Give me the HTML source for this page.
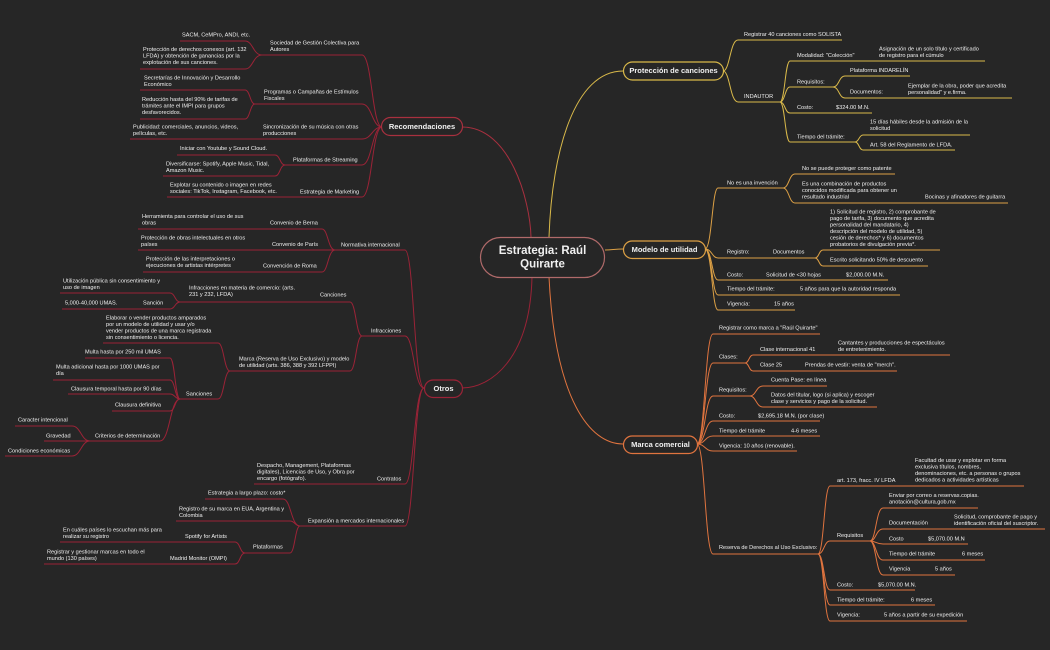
<!DOCTYPE html>
<html><head><meta charset="utf-8"><style>
html,body{margin:0;padding:0;background:#262626;}
svg{display:block;}
text{font-family:"Liberation Sans",sans-serif;font-size:5.6px;fill:#f0f0f0;dominant-baseline:middle;}
.b{font-weight:bold;font-size:7.5px;text-anchor:middle;}
.c{font-weight:bold;font-size:11.5px;text-anchor:middle;}
path{fill:none;stroke-width:1;}
.r path{stroke:#9b2337;}
.y path{stroke:#d9b94a;}
.o path{stroke:#dca045;}
.m path{stroke:#e0743f;}
</style></head><body>
<svg width="1050" height="650" viewBox="0 0 1050 650" xmlns="http://www.w3.org/2000/svg">
<rect width="1050" height="650" fill="#262626"/>
<!-- main connectors -->
<path d="M462 127 C510 127 530 200 531 237" stroke="#a8303f" stroke-width="1.3"/>
<path d="M549 237 C552 150 575 71 623 71" stroke="#d9b94a" stroke-width="1.3"/>
<path d="M605 250 C612 250 615 249 623 249" stroke="#dca045" stroke-width="1.3"/>
<path d="M532 277 C530 360 490 388 462 388" stroke="#9b2337" stroke-width="1.3"/>
<path d="M549 277 C555 400 590 444 623 444" stroke="#e0743f" stroke-width="1.3"/>
<rect x="480.5" y="237.5" width="124" height="40" rx="20" fill="#262626" stroke="#b06a6a" stroke-width="1.2"/>
<text class="c" x="542.5" y="251">Estrategia: Raúl</text>
<text class="c" x="542.5" y="264.5">Quirarte</text>

<!-- Recomendaciones -->
<g class="r">
<path d="M382 127 C372 127 372 55 362 55 H262"/>
<path d="M382 127 C372 127 372 104 362 104 H255"/>
<path d="M382 127 C372 127 372 139 362 139 H130"/>
<path d="M382 127 C372 127 372 165 362 165 H285"/>
<path d="M382 127 C372 127 372 197 362 197 H167"/>
<path d="M262 55 C253 55 253 41 245 41 H180"/>
<path d="M262 55 C253 55 253 69 245 69 H140"/>
<path d="M255 104 C250 104 250 90 245 90 H140"/>
<path d="M255 104 C250 104 250 119 245 119 H140"/>
<path d="M285 165 C280 165 280 155 275 155 H177"/>
<path d="M285 165 C280 165 280 176 275 176 H163"/>
</g>
<rect x="381.5" y="117.5" width="81" height="18" rx="9" fill="#262626" stroke="#a8303f" stroke-width="1.2"/>
<text class="b" x="422" y="127">Recomendaciones</text>
<text x="270" y="43">Sociedad de Gestión Colectiva para</text>
<text x="270" y="49.5">Autores</text>
<text x="182" y="35">SACM, CeMPro, ANDI, etc.</text>
<text x="143" y="49.5">Protección de derechos conexos (art. 132</text>
<text x="143" y="56">LFDA) y obtención de ganancias por la</text>
<text x="143" y="62.5">explotación de sus canciones.</text>
<text x="264" y="92">Programas o Campañas de Estímulos</text>
<text x="264" y="98.5">Fiscales</text>
<text x="144" y="78">Secretarías de Innovación y Desarrollo</text>
<text x="144" y="84.5">Económico</text>
<text x="142" y="99.5">Reducción hasta del 90% de tarifas de</text>
<text x="142" y="106">trámites ante el IMPI para grupos</text>
<text x="142" y="112.5">desfavorecidos.</text>
<text x="263" y="127">Sincronización de su música con otras</text>
<text x="263" y="133.5">producciones</text>
<text x="133" y="127">Publicidad: comerciales, anuncios, videos,</text>
<text x="133" y="133.5">películas, etc.</text>
<text x="293" y="160">Plataformas de Streaming</text>
<text x="180" y="148.5">Iniciar con Youtube y Sound Cloud.</text>
<text x="166" y="164">Diversificarse: Spotify, Apple Music, Tidal,</text>
<text x="166" y="170.5">Amazon Music.</text>
<text x="300" y="192">Estrategia de Marketing</text>
<text x="170" y="185">Explotar su contenido o imagen en redes</text>
<text x="170" y="191.5">sociales: TikTok, Instagram, Facebook, etc.</text>

<!-- Otros -->
<g class="r">
<path d="M424 388 C414 388 414 250 405 250 H335"/>
<path d="M424 388 C414 388 414 336 405 336 H362"/>
<path d="M424 388 C414 388 414 484 405 484 H254"/>
<path d="M424 388 C414 388 414 526 405 526 H300"/>
<path d="M335 250 C328 250 328 229 322 229 H138"/>
<path d="M335 250 C328 250 328 250 322 250 H138"/>
<path d="M335 250 C328 250 328 272 322 272 H143"/>
<path d="M362 336 C356 336 356 302 350 302 H180"/>
<path d="M362 336 C356 336 356 371 350 371 H230"/>
<path d="M180 302 C175 302 175 293 170 293 H60"/>
<path d="M180 302 C175 302 175 309 170 309 H62"/>
<path d="M230 371 C224 371 224 343 218 343 H103"/>
<path d="M230 371 C224 371 224 399 218 399 H180"/>
<path d="M180 399 C175 399 175 358 170 358 H85"/>
<path d="M180 399 C175 399 175 380 170 380 H53"/>
<path d="M180 399 C175 399 175 394 170 394 H68"/>
<path d="M180 399 C175 399 175 411 170 411 H112"/>
<path d="M180 399 C170 399 170 441 160 441 H90"/>
<path d="M90 441 C81 441 81 426 72 426 H15"/>
<path d="M90 441 C81 441 81 441 72 441 H44"/>
<path d="M90 441 C81 441 81 456 72 456 H5"/>
<path d="M300 526 C291 526 291 499 283 499 H205"/>
<path d="M300 526 C295 526 295 521 290 521 H176"/>
<path d="M300 526 C295 526 295 553 290 553 H245"/>
<path d="M245 553 C240 553 240 542 235 542 H60"/>
<path d="M245 553 C240 553 240 564 235 564 H44"/>
</g>
<rect x="424.5" y="380" width="38" height="17.5" rx="8.7" fill="#262626" stroke="#9b2337" stroke-width="1.2"/>
<text class="b" x="443.5" y="389">Otros</text>
<text x="341" y="245">Normativa internacional</text>
<text x="142" y="216.5">Herramienta para controlar el uso de sus</text>
<text x="142" y="223">obras</text>
<text x="270" y="223">Convenio de Berna</text>
<text x="141" y="238">Protección de obras intelectuales en otros</text>
<text x="141" y="244.5">países</text>
<text x="272" y="244.5">Convenio de París</text>
<text x="146" y="259">Protección de  las interpretaciones o</text>
<text x="146" y="265.5">ejecuciones de artistas intérpretes</text>
<text x="263" y="266">Convención de Roma</text>
<text x="371" y="331">Infracciones</text>
<text x="320" y="295">Canciones</text>
<text x="189" y="288">Infracciones en materia de comercio: (arts.</text>
<text x="189" y="294.5">231 y 232, LFDA)</text>
<text x="63" y="281">Utilización pública sin consentimiento y</text>
<text x="63" y="287.5">uso de imagen</text>
<text x="65" y="303">5,000-40,000 UMAS.</text>
<text x="143" y="303">Sanción</text>
<text x="239" y="359">Marca (Reserva de Uso Exclusivo) y modelo</text>
<text x="239" y="365.5">de utilidad (arts. 386, 388 y 392 LFPPI)</text>
<text x="106" y="318">Elaborar o vender productos amparados</text>
<text x="106" y="324.5">por un modelo de utilidad y usar y/o</text>
<text x="106" y="331">vender productos de una marca registrada</text>
<text x="106" y="337.5">sin consentimiento o licencia.</text>
<text x="186" y="394">Sanciones</text>
<text x="85" y="352">Multa hasta por 250 mil UMAS</text>
<text x="56" y="367">Multa adicional hasta por 1000 UMAS por</text>
<text x="56" y="373.5">día</text>
<text x="71" y="389">Clausura temporal hasta por 90 días</text>
<text x="115" y="405">Clausura definitiva</text>
<text x="95" y="436">Criterios de determinación</text>
<text x="18" y="420">Caracter intencional</text>
<text x="46" y="436">Gravedad</text>
<text x="8" y="451">Condiciones económicas</text>
<text x="377" y="479">Contratos</text>
<text x="257" y="465.5">Despacho, Management, Plataformas</text>
<text x="257" y="472">digitales), Licencias de Uso, y Obra por</text>
<text x="257" y="478.5">encargo (fotógrafo).</text>
<text x="308" y="521">Expansión a mercados internacionales</text>
<text x="208" y="493">Estrategia a largo plazo: costo*</text>
<text x="179" y="509">Registro de su marca en EUA, Argentina y</text>
<text x="179" y="515.5">Colombia</text>
<text x="253" y="547">Plataformas</text>
<text x="185" y="536.5">Spotify for Artists</text>
<text x="63" y="530">En cuáles países lo escuchan más para</text>
<text x="63" y="536.5">realizar su registro</text>
<text x="170" y="558.5">Madrid Monitor (OMPI)</text>
<text x="47" y="552">Registrar y gestionar marcas en todo el</text>
<text x="47" y="558.5">mundo (130 países)</text>

<!-- Protección de canciones -->
<g class="y">
<path d="M723 71 C730 71 730 40 738 40 H842"/>
<path d="M723 71 C730 71 730 102 738 102 H780"/>
<path d="M780 102 C785 102 785 61 790 61 H985"/>
<path d="M780 102 C785 102 785 87 790 87 H833"/>
<path d="M780 102 C785 102 785 113 790 113 H872"/>
<path d="M780 102 C785 102 785 142 790 142 H855"/>
<path d="M833 87 C839 87 839 76 845 76 H910"/>
<path d="M833 87 C839 87 839 98 845 98 H1012"/>
<path d="M855 142 C859 142 859 135 863 135 H970"/>
<path d="M855 142 C859 142 859 150 863 150 H955"/>
</g>
<rect x="623.5" y="62" width="100" height="18" rx="9" fill="#262626" stroke="#d9b94a" stroke-width="1.2"/>
<text class="b" x="673.5" y="71">Protección de canciones</text>
<text x="744" y="34.5">Registrar 40 canciones como SOLISTA</text>
<text x="744" y="96.5">INDAUTOR</text>
<text x="797" y="55.5">Modalidad: "Colección"</text>
<text x="879" y="49">Asignación de un solo título y certificado</text>
<text x="879" y="55.5">de registro para el cúmulo</text>
<text x="797" y="82">Requisitos:</text>
<text x="850" y="70.5">Plataforma INDARELÍN</text>
<text x="850" y="92">Documentos:</text>
<text x="908" y="86">Ejemplar de la obra, poder que acredita</text>
<text x="908" y="92.5">personalidad" y e.firma.</text>
<text x="797" y="107.5">Costo:</text>
<text x="836" y="107.5">$324.00 M.N.</text>
<text x="797" y="137">Tiempo del trámite:</text>
<text x="870" y="122">15 días hábiles desde la admisión de la</text>
<text x="870" y="128.5">solicitud</text>
<text x="870" y="145">Art. 58 del Reglamento de LFDA.</text>

<!-- Modelo de utilidad -->
<g class="o">
<path d="M705 249 C712 249 712 188 718 188 H783"/>
<path d="M705 249 C712 249 712 258 718 258 H815"/>
<path d="M705 249 C712 249 712 280 718 280 H888"/>
<path d="M705 249 C712 249 712 295 718 295 H900"/>
<path d="M705 249 C712 249 712 310 718 310 H795"/>
<path d="M783 188 C789 188 789 174 795 174 H895"/>
<path d="M783 188 C789 188 789 203 795 203 H1008"/>
<path d="M815 258 C819 258 819 250 823 250 H940"/>
<path d="M815 258 C819 258 819 266 823 266 H928"/>
</g>
<rect x="623.5" y="241" width="82" height="17.5" rx="8.7" fill="#262626" stroke="#dca045" stroke-width="1.2"/>
<text class="b" x="664.5" y="250">Modelo de utilidad</text>
<text x="727" y="183">No es una invención</text>
<text x="802" y="168.5">No se puede proteger como patente</text>
<text x="802" y="184">Es una combinación de productos</text>
<text x="802" y="190.5">conocidos modificada para obtener un</text>
<text x="802" y="197">resultado industrial</text>
<text x="925" y="197">Bocinas y afinadores de guitarra</text>
<text x="727" y="252">Registro:</text>
<text x="773" y="252">Documentos</text>
<text x="830" y="212">1) Solicitud de registro, 2) comprobante de</text>
<text x="830" y="218.5">pago de tarifa, 3) documento que acredita</text>
<text x="830" y="225">personalidad del mandatario, 4)</text>
<text x="830" y="231.5">descripción del modelo de utilidad, 5)</text>
<text x="830" y="238">cesión de derechos* y 6)  documentos</text>
<text x="830" y="244.5">probatorios de divulgación previa*.</text>
<text x="830" y="260">Escrito solicitando 50% de descuento</text>
<text x="727" y="275">Costo:</text>
<text x="766" y="275">Solicitud de &lt;30 hojas</text>
<text x="846" y="275">$2,000.00 M.N.</text>
<text x="727" y="289">Tiempo del trámite:</text>
<text x="800" y="289">5 años para que la autoridad responda</text>
<text x="727" y="304">Vigencia:</text>
<text x="774" y="304">15 años</text>

<!-- Marca comercial -->
<g class="m">
<path d="M697 444 C705 444 705 334 713 334 H820"/>
<path d="M697 444 C705 444 705 363 713 363 H745"/>
<path d="M697 444 C705 444 705 396 713 396 H750"/>
<path d="M697 444 C705 444 705 421 713 421 H820"/>
<path d="M697 444 C705 444 705 436 713 436 H820"/>
<path d="M697 444 C705 444 705 451 713 451 H797"/>
<path d="M697 444 C705 444 705 554 713 554 H818"/>
<path d="M745 363 C749 363 749 355 753 355 H950"/>
<path d="M745 363 C749 363 749 371 753 371 H897"/>
<path d="M750 396 C756 396 756 386 763 386 H827"/>
<path d="M750 396 C756 396 756 407 763 407 H877"/>
<path d="M818 554 C824 554 824 486 830 486 H1024"/>
<path d="M818 554 C824 554 824 541 830 541 H870"/>
<path d="M818 554 C824 554 824 590 830 590 H915"/>
<path d="M818 554 C824 554 824 605 830 605 H935"/>
<path d="M818 554 C824 554 824 621 830 621 H967"/>
<path d="M870 541 C876 541 876 508 883 508 H978"/>
<path d="M870 541 C876 541 876 529 883 529 H1045"/>
<path d="M870 541 C876 541 876 544 883 544 H968"/>
<path d="M870 541 C876 541 876 560 883 560 H985"/>
<path d="M870 541 C876 541 876 575 883 575 H955"/>
</g>
<rect x="623.5" y="436" width="74" height="17.5" rx="8.7" fill="#262626" stroke="#e0743f" stroke-width="1.2"/>
<text class="b" x="660.5" y="445">Marca comercial</text>
<text x="719" y="328">Registrar como marca a "Raúl Quirarte"</text>
<text x="719" y="357">Clases:</text>
<text x="760" y="349.5">Clase internacional 41</text>
<text x="838" y="343">Cantantes y producciones de espectáculos</text>
<text x="838" y="349.5">de entretenimiento.</text>
<text x="760" y="365">Clase 25</text>
<text x="805" y="365">Prendas de vestir: venta de "merch".</text>
<text x="719" y="390">Requisitos:</text>
<text x="771" y="380">Cuenta Pase: en línea</text>
<text x="771" y="395">Datos del titular, logo (si aplica) y escoger</text>
<text x="771" y="401.5">clase y servicios y pago de la solicitud.</text>
<text x="719" y="416">Costo:</text>
<text x="758" y="416">$2,695.18 M.N. (por clase)</text>
<text x="719" y="431">Tiempo del trámite</text>
<text x="791" y="431">4-6 meses</text>
<text x="719" y="446">Vigencia: 10 años (renovable).</text>
<text x="719" y="547.5">Reserva de Derechos al Uso Exclusivo:</text>
<text x="837" y="480.5">art. 173, fracc. IV LFDA</text>
<text x="915" y="460.5">Facultad de usar y explotar en forma</text>
<text x="915" y="467">exclusiva títulos, nombres,</text>
<text x="915" y="473.5">denominaciones, etc. a personas o grupos</text>
<text x="915" y="480">dedicados a actividades artísticas</text>
<text x="837" y="535.5">Requisitos</text>
<text x="889" y="495.5">Enviar por correo a reservas.copias.</text>
<text x="889" y="502">anotación@cultura.gob.mx</text>
<text x="889" y="523">Documentación</text>
<text x="954" y="517">Solicitud, comprobante de pago y</text>
<text x="954" y="523.5">identificación oficial del suscriptor.</text>
<text x="889" y="539">Costo</text>
<text x="928" y="539">$5,070.00 M.N</text>
<text x="889" y="554">Tiempo del trámite</text>
<text x="962" y="554">6 meses</text>
<text x="889" y="569">Vigencia</text>
<text x="935" y="569">5 años</text>
<text x="837" y="585">Costo:</text>
<text x="878" y="585">$5,070.00 M.N.</text>
<text x="837" y="600">Tiempo del trámite:</text>
<text x="911" y="600">6 meses</text>
<text x="837" y="615">Vigencia:</text>
<text x="884" y="615">5 años a partir de su expedición</text>
</svg>
</body></html>
